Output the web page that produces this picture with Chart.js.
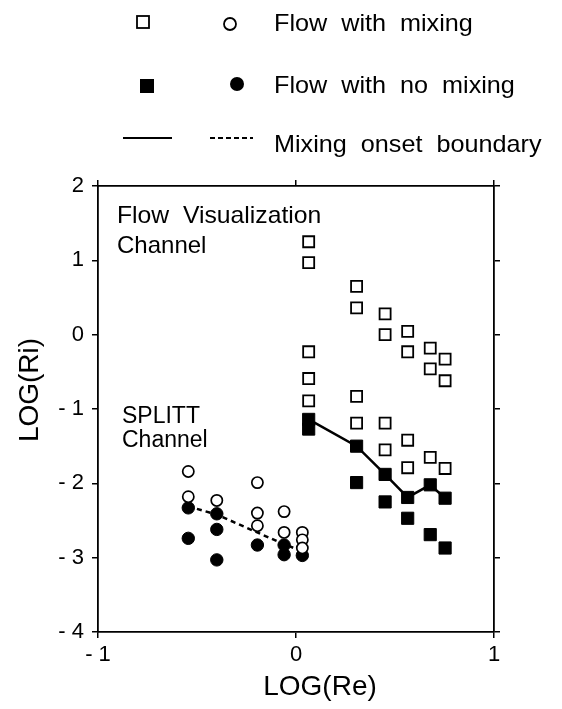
<!DOCTYPE html>
<html>
<head>
<meta charset="utf-8">
<script src="https://cdn.jsdelivr.net/npm/chart.js@4"></script>
<style>
  html, body { margin: 0; padding: 0; background: #fff; }
  canvas { display: block; }
</style>
</head>
<body>
<canvas id="chart" width="562" height="709"></canvas>
<script>
// values: LOG(Re) vs LOG(Ri)
const visMixRe = [0.064, 0.064, 0.064, 0.064, 0.064, 0.306, 0.306, 0.306, 0.306, 0.45, 0.45, 0.45, 0.45,
  0.564, 0.564, 0.564, 0.564, 0.678, 0.678, 0.678, 0.753, 0.753, 0.753];
const visMixRi = [1.25, 0.97, -0.23, -0.59, -0.89, 0.65, 0.36, -0.83, -1.19, 0.28, 0.0, -1.19, -1.55,
  0.045, -0.23, -1.42, -1.79, -0.18, -0.46, -1.65, -0.33, -0.62, -1.80];

const visNoMixRe = [0.064, 0.064, 0.306, 0.306, 0.45, 0.45, 0.564, 0.564, 0.678, 0.678, 0.753, 0.753];
const visNoMixRi = [-1.14, -1.27, -1.50, -1.99, -1.88, -2.25, -2.19, -2.47, -2.02, -2.69, -2.20, -2.87];

const splittMixRe = [-0.544, -0.544, -0.40, -0.195, -0.195, -0.195, -0.06, -0.06, 0.032, 0.032, 0.032];
const splittMixRi = [-1.84, -2.18, -2.23, -1.99, -2.40, -2.57, -2.38, -2.66, -2.66, -2.76, -2.87];

const splittNoMixRe = [-0.544, -0.544, -0.40, -0.40, -0.40, -0.195, -0.06, -0.06, 0.032];
const splittNoMixRi = [-2.33, -2.74, -2.41, -2.62, -3.03, -2.83, -2.83, -2.96, -2.97];

const visBoundRe = [0.064, 0.306, 0.45, 0.564, 0.678, 0.753];
const visBoundRi = [-1.14, -1.50, -1.88, -2.19, -2.02, -2.20];

const splittBoundRe = [-0.544, -0.40, -0.06, 0.03];
const splittBoundRi = [-2.31, -2.42, -2.82, -2.91];

const xTicks = [-1, 0, 1];
const yTicks = [2, 1, 0, -1, -2, -3, -4];

const FONT = "'Liberation Sans', Arial, Helvetica, sans-serif";

function pts(xs, ys) {
  return xs.map((x, i) => ({ x, y: ys[i] }));
}

function tickText(v) {
  return v < 0 ? '- ' + Math.abs(v) : String(v);
}

function text(ctx, str, x, y, size, opts = {}) {
  ctx.save();
  ctx.translate(x, y);
  if (opts.rotate) ctx.rotate(opts.rotate);
  ctx.scale(opts.sx || 1, 1);
  ctx.font = `${size}px ${FONT}`;
  ctx.fillStyle = '#000';
  ctx.textAlign = opts.align || 'left';
  ctx.textBaseline = 'alphabetic';
  ctx.fillText(str, 0, 0);
  ctx.restore();
}

const overlay = {
  id: 'overlay',
  afterDraw(chart) {
    const ctx = chart.ctx;
    // legend
    ctx.save();
    ctx.strokeStyle = '#000';
    ctx.fillStyle = '#000';
    ctx.lineWidth = 1.8;
    ctx.strokeRect(137, 16, 12, 12);
    ctx.beginPath();
    ctx.arc(230, 24, 6, 0, Math.PI * 2);
    ctx.stroke();
    ctx.fillRect(140, 79, 14, 14);
    ctx.beginPath();
    ctx.arc(237, 84, 7, 0, Math.PI * 2);
    ctx.fill();
    ctx.lineWidth = 2;
    ctx.beginPath();
    ctx.moveTo(123, 138);
    ctx.lineTo(172, 138);
    ctx.stroke();
    ctx.setLineDash([5, 3]);
    ctx.beginPath();
    ctx.moveTo(210, 138);
    ctx.lineTo(253, 138);
    ctx.stroke();
    ctx.restore();

    text(ctx, 'Flow  with  mixing', 274, 31, 24, { sx: 1.05 });
    text(ctx, 'Flow  with  no  mixing', 274, 93, 24, { sx: 1.05 });
    text(ctx, 'Mixing  onset  boundary', 274, 152, 24, { sx: 1.05 });

    // annotations inside the plot
    text(ctx, 'Flow  Visualization', 117, 223, 24, { sx: 1.03 });
    text(ctx, 'Channel', 117, 253, 24, { sx: 1.0 });
    text(ctx, 'SPLITT', 122, 423, 23);
    text(ctx, 'Channel', 122, 447, 23);

    // axis titles
    text(ctx, 'LOG(Re)', 320, 695, 28, { align: 'center' });
    text(ctx, 'LOG(Ri)', 38, 390, 28, { align: 'center', rotate: -Math.PI / 2 });
  }
};

const axisGrid = { drawOnChartArea: false, color: '#000', lineWidth: 1.5, tickLength: 6 };
const axisBorder = { color: '#000', width: 1.8 };
const tickFont = { family: FONT, size: 22 };

new Chart(document.getElementById('chart').getContext('2d'), {
  type: 'scatter',
  data: {
    datasets: [
      {
        label: 'Flow with mixing (visualization channel)',
        data: pts(visMixRe, visMixRi),
        pointStyle: 'rect',
        pointRadius: 7.8,
        backgroundColor: '#fff',
        borderColor: '#000',
        borderWidth: 1.8
      },
      {
        label: 'Flow with no mixing (visualization channel)',
        data: pts(visNoMixRe, visNoMixRi),
        pointStyle: 'rect',
        pointRadius: 8.6,
        backgroundColor: '#000',
        borderColor: '#000',
        borderWidth: 1
      },
      {
        label: 'Flow with mixing (SPLITT channel)',
        data: pts(splittMixRe, splittMixRi),
        pointStyle: 'circle',
        pointRadius: 5.6,
        backgroundColor: '#fff',
        borderColor: '#000',
        borderWidth: 1.7
      },
      {
        label: 'Flow with no mixing (SPLITT channel)',
        data: pts(splittNoMixRe, splittNoMixRi),
        pointStyle: 'circle',
        pointRadius: 6.2,
        backgroundColor: '#000',
        borderColor: '#000',
        borderWidth: 1
      },
      {
        label: 'Mixing onset boundary (visualization)',
        data: pts(visBoundRe, visBoundRi),
        showLine: true,
        pointRadius: 0,
        borderColor: '#000',
        borderWidth: 2.5
      },
      {
        label: 'Mixing onset boundary (SPLITT)',
        data: pts(splittBoundRe, splittBoundRi),
        showLine: true,
        pointRadius: 0,
        borderColor: '#000',
        borderWidth: 2.5,
        borderDash: [5, 4]
      }
    ]
  },
  options: {
    responsive: false,
    animation: false,
    layout: { padding: 0 },
    plugins: { legend: { display: false }, tooltip: { enabled: false } },
    scales: {
      x: {
        type: 'linear',
        position: 'bottom',
        min: -1,
        max: 1,
        afterBuildTicks: (s) => { s.ticks = xTicks.map((v) => ({ value: v })); },
        ticks: { callback: tickText, font: tickFont, color: '#000', padding: 4, maxRotation: 0 },
        grid: axisGrid,
        border: axisBorder,
        afterFit: (s) => { s.height = 77; }
      },
      x2: {
        type: 'linear',
        position: 'top',
        min: -1,
        max: 1,
        afterBuildTicks: (s) => { s.ticks = xTicks.map((v) => ({ value: v })); },
        ticks: { display: false },
        grid: axisGrid,
        border: axisBorder,
        afterFit: (s) => { s.height = 186; }
      },
      y: {
        type: 'linear',
        position: 'left',
        min: -4,
        max: 2,
        afterBuildTicks: (s) => { s.ticks = yTicks.map((v) => ({ value: v })); },
        ticks: { callback: tickText, font: tickFont, color: '#000', padding: 8 },
        grid: axisGrid,
        border: axisBorder,
        afterFit: (s) => { s.width = 98; }
      },
      y2: {
        type: 'linear',
        position: 'right',
        min: -4,
        max: 2,
        afterBuildTicks: (s) => { s.ticks = yTicks.map((v) => ({ value: v })); },
        ticks: { display: false },
        grid: axisGrid,
        border: axisBorder,
        afterFit: (s) => { s.width = 68; }
      }
    }
  },
  plugins: [overlay]
});
</script>
</body>
</html>
